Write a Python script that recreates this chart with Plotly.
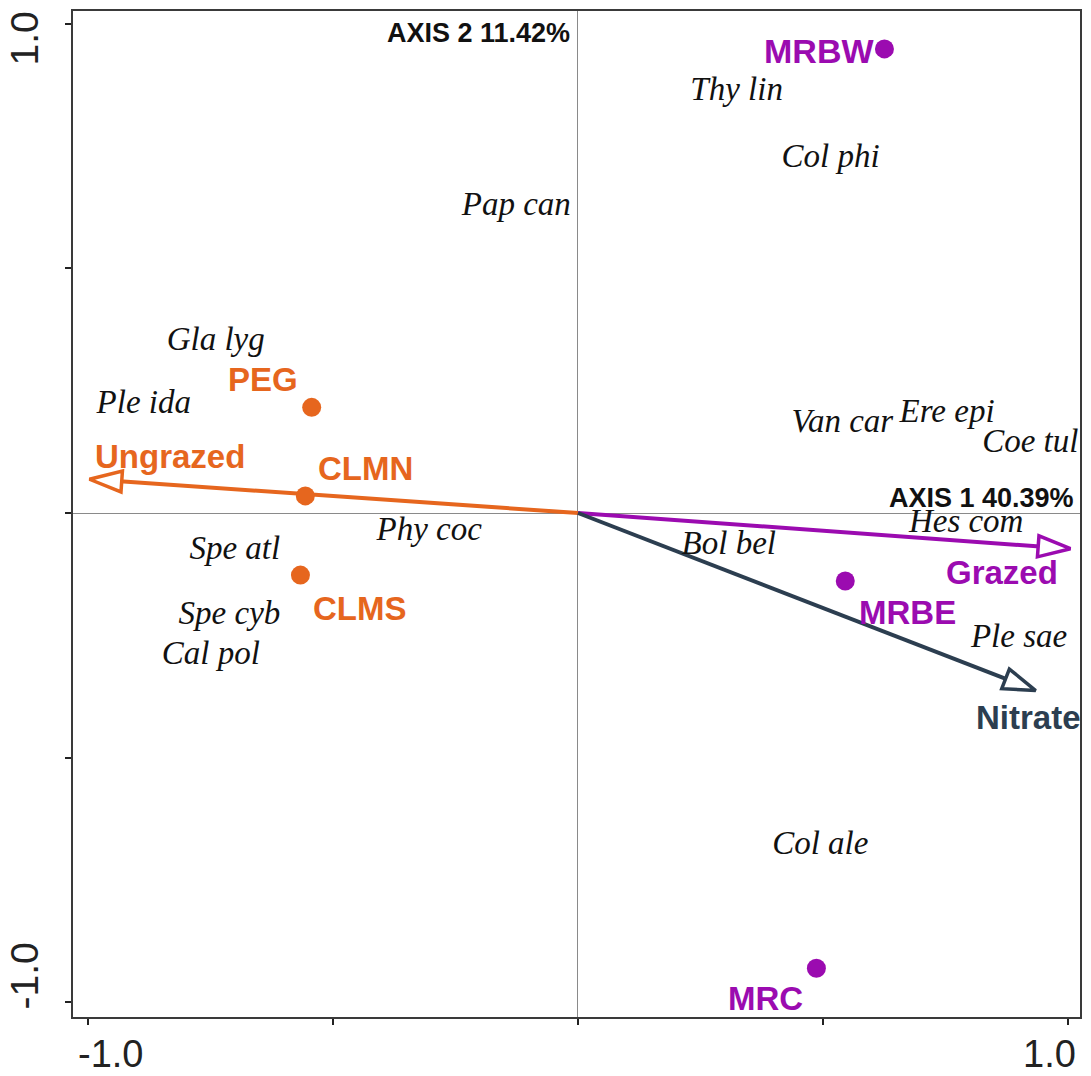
import plotly.graph_objects as go

# Site scores (CCA biplot)
site_names = ["PEG", "CLMN", "CLMS", "MRBW", "MRBE", "MRC"]
site_x = [-0.544, -0.557, -0.567, 0.626, 0.546, 0.487]
site_y = [0.216, 0.035, -0.127, 0.949, -0.139, -0.931]
site_group = ["Ungrazed", "Ungrazed", "Ungrazed", "Grazed", "Grazed", "Grazed"]

# Species scores
species_names = ["Thy lin", "Col phi", "Pap can", "Gla lyg", "Ple ida", "Van car",
                 "Ere epi", "Coe tul", "Hes com", "Bol bel", "Phy coc", "Spe atl",
                 "Spe cyb", "Cal pol", "Ple sae", "Col ale"]
species_x = [0.324, 0.516, -0.126, -0.740, -0.887, 0.540,
             0.754, 0.924, 0.793, 0.308, -0.304, -0.701,
             -0.712, -0.750, 0.901, 0.495]
species_y = [0.861, 0.724, 0.627, 0.351, 0.222, 0.182,
             0.202, 0.141, -0.022, -0.067, -0.039, -0.078,
             -0.210, -0.292, -0.257, -0.680]

# Environmental vectors
env_names = ["Ungrazed", "Grazed", "Nitrate"]
env_x = [-0.998, 1.006, 0.935]
env_y = [0.069, -0.073, -0.363]

axis1_label = "AXIS 1 40.39%"
axis2_label = "AXIS 2 11.42%"
tick_values = [-1.0, 1.0]
tick_labels = ["-1.0", "1.0"]

ORANGE = "#E6661E"
PURPLE = "#9B0BB0"
SLATE = "#2C3E50"
group_color = {"Ungrazed": ORANGE, "Grazed": PURPLE}
env_color = {"Ungrazed": ORANGE, "Grazed": PURPLE, "Nitrate": SLATE}

BOLD = "Liberation Sans, Arial, sans-serif"
SERIF = "Liberation Serif, Times New Roman, serif"

fig = go.Figure()

# vectors with hollow arrowheads (white fill, coloured outline)
for name, ex, ey in zip(env_names, env_x, env_y):
    c = env_color[name]
    fig.add_trace(go.Scatter(
        x=[0, ex], y=[0, ey], mode="lines+markers",
        line=dict(color=c, width=4),
        marker=dict(symbol="arrow", size=[0, 34], angleref="previous",
                    color="white", opacity=1, line=dict(color=c, width=3.5)),
        hoverinfo="skip", showlegend=False))

# species names
fig.add_trace(go.Scatter(
    x=species_x, y=species_y, mode="text", text=species_names,
    textposition="middle center",
    textfont=dict(family=SERIF, size=33, color="#111111", style="italic"),
    hoverinfo="text", showlegend=False))

# sites
fig.add_trace(go.Scatter(
    x=site_x, y=site_y, mode="markers",
    marker=dict(size=19, color=[group_color[g] for g in site_group]),
    text=site_names, hoverinfo="text", showlegend=False))

# site label placement (pixel offsets from the point)
site_label_pos = {
    "PEG": ("right", -12, 28),
    "CLMN": ("left", 11, 27),
    "CLMS": ("left", 11, -33),
    "MRBW": ("right", -8, -2),
    "MRBE": ("left", 12, -32),
    "MRC": ("right", -11, -30),
}
annotations = []
for n, sx, sy, g in zip(site_names, site_x, site_y, site_group):
    anc, dx, dy = site_label_pos[n]
    annotations.append(dict(
        x=sx, y=sy, xref="x", yref="y", text=f"<b>{n}</b>", showarrow=False,
        xanchor=anc, yanchor="middle", xshift=dx, yshift=dy,
        font=dict(family=BOLD, size=34 if n == "MRBW" else 33,
                  color=group_color[g])))

env_label_pos = {
    "Ungrazed": ("left", 4, 23),
    "Grazed": ("right", -10, -24),
    "Nitrate": ("center", -7, -27),
}
for n, ex, ey in zip(env_names, env_x, env_y):
    anc, dx, dy = env_label_pos[n]
    annotations.append(dict(
        x=ex, y=ey, xref="x", yref="y", text=f"<b>{n}</b>", showarrow=False,
        xanchor=anc, yanchor="middle", xshift=dx, yshift=dy,
        font=dict(family=BOLD, size=33, color=env_color[n])))

# axis captions
annotations.append(dict(
    x=0, y=1, xref="x", yref="paper", text=f"<b>{axis2_label}</b>", showarrow=False,
    xanchor="right", yanchor="top", xshift=-6, yshift=-5,
    font=dict(family=BOLD, size=27, color="#111111")))
annotations.append(dict(
    x=1, y=0, xref="paper", yref="y", text=f"<b>{axis1_label}</b>", showarrow=False,
    xanchor="right", yanchor="bottom", xshift=-4, yshift=-2,
    font=dict(family=BOLD, size=27, color="#111111")))

# tick labels, nudged inward
x_tick_shift = {-1.0: 22, 1.0: -18}
for v, t in zip(tick_values, tick_labels):
    annotations.append(dict(
        x=v, y=0, xref="x", yref="paper", text=t, showarrow=False,
        xanchor="center", yanchor="top", xshift=x_tick_shift[v], yshift=-14,
        font=dict(family=BOLD, size=38, color="#222222")))
y_tick_shift = {-1.0: 26, 1.0: -15}
for v, t in zip(tick_values, tick_labels):
    annotations.append(dict(
        x=0, y=v, xref="paper", yref="y", text=t, showarrow=False, textangle=-90,
        xanchor="right", yanchor="middle", xshift=-25, yshift=y_tick_shift[v],
        font=dict(family=BOLD, size=39, color="#222222")))

axis_common = dict(
    showgrid=False, zeroline=True, zerolinecolor="#8a8a8a", zerolinewidth=1,
    showline=True, mirror=True, linecolor="#3a3a3a", linewidth=2,
    ticks="outside", ticklen=6, tickwidth=1.5, tickcolor="#222222",
    tickvals=[-1, -0.5, 0, 0.5, 1], ticktext=["", "", "", "", ""],
)

fig.update_layout(
    width=1091, height=1076,
    margin=dict(l=73, r=9, t=9, b=59),
    paper_bgcolor="white", plot_bgcolor="white",
    xaxis=dict(range=[-1.0316, 1.0255], **axis_common),
    yaxis=dict(range=[-1.0306, 1.0265], **axis_common),
    annotations=annotations,
    showlegend=False,
)

fig.write_html("out.html")
